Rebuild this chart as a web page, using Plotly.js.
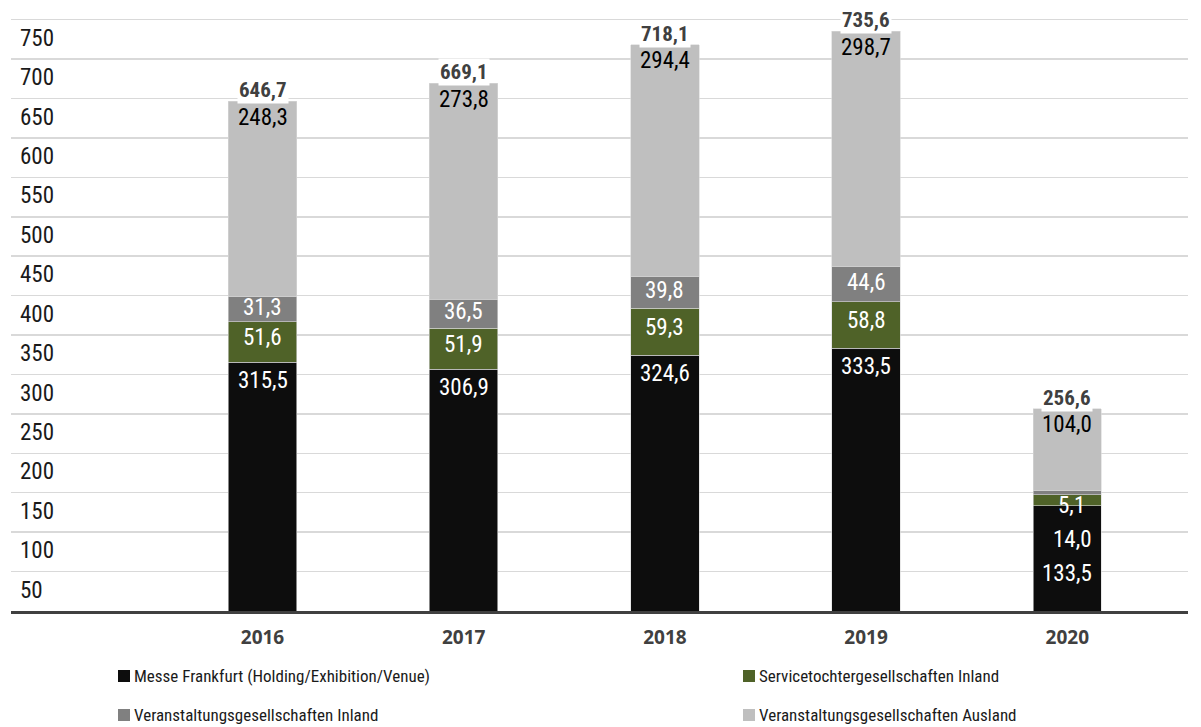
<!DOCTYPE html>
<html><head><meta charset="utf-8">
<script src="https://cdn.plot.ly/plotly-3.0.1.min.js"></script>
<style>html,body{margin:0;padding:0;background:#fff}#chart{width:1201px;height:727px}</style>
</head><body><div id="chart"></div>
<script>
// ---- data ----
const years = ['2016', '2017', '2018', '2019', '2020'];
const messeFrankfurt = [315.5, 306.9, 324.6, 333.5, 133.5];
const serviceInland = [51.6, 51.9, 59.3, 58.8, 14.0];
const veranstaltungInland = [31.3, 36.5, 39.8, 44.6, 5.1];
const veranstaltungAusland = [248.3, 273.8, 294.4, 298.7, 104.0];
const totals = [646.7, 669.1, 718.1, 735.6, 256.6];
const yTickValues = [50, 100, 150, 200, 250, 300, 350, 400, 450, 500, 550, 600, 650, 700, 750];
const seriesNames = ['Messe Frankfurt (Holding/Exhibition/Venue)', 'Servicetochtergesellschaften Inland',
  'Veranstaltungsgesellschaften Inland', 'Veranstaltungsgesellschaften Ausland'];

// ---- styling ----
const colors = ['#0d0d0d', '#4f6228', '#808080', '#bfbfbf'];
const NARROW = '"Roboto Condensed", "Liberation Sans", sans-serif';
const fmt = v => v.toFixed(1).replace('.', ',');
const BW = 0.34;
const ML = 11, MR = 13, PLOT_BOTTOM = 611, W = 1201, H = 727;
const PW = W - ML - MR;
const px2paperX = p => (p - ML) / PW;
const px2paperY = p => (PLOT_BOTTOM - p) / PLOT_BOTTOM;

const seriesValues = [messeFrankfurt, serviceInland, veranstaltungInland, veranstaltungAusland];
const traces = seriesValues.map((vals, k) => ({
  type: 'bar', x: years, y: vals, name: seriesNames[k], width: BW,
  marker: {color: colors[k], line: {color: '#d9d9d9', width: 0.6}},
  hoverinfo: 'skip', showlegend: false
}));

const annotations = [];
function lab(i, y, text, color, yshift, xshift) {
  annotations.push({
    x: i, y: y, xref: 'x', yref: 'y', text: text, showarrow: false,
    yanchor: 'middle', xanchor: 'center', yshift: yshift, xshift: xshift || 0,
    font: {family: NARROW, size: 23, color: color}
  });
}
years.forEach((yr, i) => {
  const b1 = messeFrankfurt[i];
  const b2 = b1 + serviceInland[i];
  const b3 = b2 + veranstaltungInland[i];
  const b4 = b3 + veranstaltungAusland[i];
  if (i < 4) {
    lab(i, b1, fmt(messeFrankfurt[i]), '#ffffff', -18);
    lab(i, (b1 + b2) / 2, fmt(serviceInland[i]), '#ffffff', 4);
    lab(i, (b2 + b3) / 2, fmt(veranstaltungInland[i]), '#ffffff', 2);
  } else {
    lab(i, 0, fmt(messeFrankfurt[i]), '#ffffff', 38);
    lab(i, 0, fmt(serviceInland[i]), '#ffffff', 72, 5);
    lab(i, (b1 + b2) / 2, fmt(veranstaltungInland[i]), '#ffffff', -5, 4);
  }
  lab(i, b4, fmt(veranstaltungAusland[i]), '#000000', -16);
  annotations.push({
    x: i, y: totals[i], xref: 'x', yref: 'y', text: '<b>' + fmt(totals[i]) + '</b>', showarrow: false,
    yanchor: 'middle', xanchor: 'center', yshift: 11, bgcolor: '#ffffff',
    font: {family: NARROW, size: 21, color: '#404040'}
  });
});

// legend: squares (shapes) + labels (annotations)
const legendPx = [[118, 676], [743, 676], [118, 715], [743, 715]];
const shapes = [];
seriesNames.forEach((nm, k) => {
  const [sx, sy] = legendPx[k];
  shapes.push({
    type: 'rect', xref: 'paper', yref: 'paper', layer: 'above',
    x0: px2paperX(sx), x1: px2paperX(sx + 12), y0: px2paperY(sy + 6), y1: px2paperY(sy - 6),
    fillcolor: colors[k], line: {width: 0}
  });
  annotations.push({
    xref: 'paper', yref: 'paper', x: px2paperX(sx + 14), y: px2paperY(sy), xanchor: 'left', yanchor: 'middle',
    text: nm, showarrow: false, font: {family: NARROW, size: 17, color: '#1a1a1a'}
  });
});

const layout = {
  width: W, height: H,
  margin: {l: ML, r: MR, t: 0, b: H - PLOT_BOTTOM, autoexpand: false},
  paper_bgcolor: '#ffffff', plot_bgcolor: '#ffffff',
  barmode: 'stack', bargap: 0,
  showlegend: false,
  xaxis: {
    type: 'category', range: [-1.25, 4.6], fixedrange: true, automargin: false,
    showgrid: false, zeroline: false, showline: true, linecolor: '#404040', linewidth: 3,
    ticks: '', tickfont: {family: '"Open Sans", sans-serif', size: 19, color: '#404040', weight: 'bold'},
    ticklabelstandoff: 7
  },
  yaxis: {
    range: [0, 775], fixedrange: true, automargin: false,
    tickmode: 'array', tickvals: yTickValues, ticktext: yTickValues.map(String),
    showgrid: true, gridcolor: '#d9d9d9', gridwidth: 1.5, zeroline: false, showline: false,
    ticks: '', ticklabelposition: 'inside', ticklabelshift: 18, ticklabelstandoff: 6,
    tickfont: {family: NARROW, size: 23, color: '#1a1a1a'}
  },
  shapes: shapes,
  annotations: annotations
};

Plotly.newPlot('chart', traces, layout, {displayModeBar: false, staticPlot: true});
</script>
</body></html>
